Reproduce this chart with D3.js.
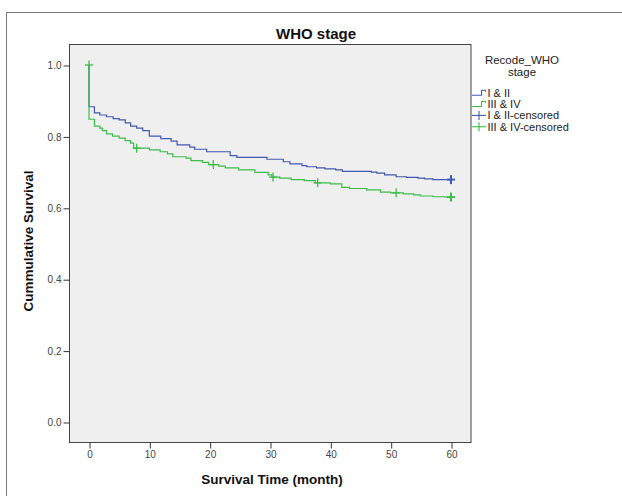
<!DOCTYPE html>
<html>
<head>
<meta charset="utf-8">
<script src="https://cdn.jsdelivr.net/npm/d3@7"></script>
<style>
  html, body { margin: 0; padding: 0; background: #fff; }
  svg { display: block; font-family: "Liberation Sans", Arial, sans-serif; }
</style>
</head>
<body>
<svg id="chart" width="622" height="496"></svg>
<script>
// Kaplan-Meier survival by recoded WHO stage
const groupNames = ["I & II", "III & IV"];
const groupColors = ["#4259b2", "#3dbd4a"];

// Group I & II: step times (month) and cumulative survival
const timesEarly = [0, 0, 0.9, 1.8, 2.9, 4.0, 5.0, 6.0, 6.9, 7.9, 8.9, 10.0, 11.9, 13.6, 14.6, 16.7, 17.5, 19.5, 23.4, 24.5, 29.5, 32.2, 33.3, 35.3, 36.1, 37.7, 39.1, 40.9, 42.0, 46.8, 47.7, 49.0, 50.9, 52.6, 54.5, 55.6, 57.0, 60];
const survEarly  = [1.0, 0.883, 0.866, 0.860, 0.855, 0.850, 0.846, 0.838, 0.829, 0.823, 0.816, 0.801, 0.794, 0.787, 0.776, 0.770, 0.764, 0.757, 0.746, 0.741, 0.736, 0.729, 0.723, 0.718, 0.715, 0.712, 0.709, 0.706, 0.702, 0.700, 0.697, 0.692, 0.687, 0.685, 0.683, 0.681, 0.679, 0.679];

// Group III & IV: step times (month) and cumulative survival
const timesLate = [0, 0, 0.9, 1.8, 2.2, 2.9, 3.9, 5.0, 6.0, 6.9, 7.4, 10.0, 11.8, 13.0, 13.9, 16.1, 16.9, 18.8, 19.8, 21.5, 22.6, 24.8, 27.5, 29.7, 30.3, 31.6, 33.5, 35.7, 37.5, 40.0, 41.9, 43.2, 46.0, 48.3, 50.0, 52.1, 53.8, 54.9, 57.0, 59.0, 60];
const survLate  = [1.0, 0.848, 0.829, 0.823, 0.816, 0.807, 0.801, 0.795, 0.788, 0.781, 0.767, 0.762, 0.757, 0.751, 0.743, 0.739, 0.732, 0.727, 0.721, 0.717, 0.712, 0.706, 0.699, 0.692, 0.686, 0.683, 0.679, 0.676, 0.670, 0.667, 0.657, 0.654, 0.650, 0.644, 0.642, 0.639, 0.636, 0.633, 0.631, 0.630, 0.630];

// Censored observations (month, survival)
const censorTimesEarly = [60];
const censorSurvEarly  = [0.679];
const censorTimesLate  = [0, 7.9, 20.6, 30.5, 37.9, 50.9, 60];
const censorSurvLate   = [1.0, 0.767, 0.721, 0.686, 0.670, 0.642, 0.630];

const xTicks = [0, 10, 20, 30, 40, 50, 60];
const yTicks = [0.0, 0.2, 0.4, 0.6, 0.8, 1.0];

const svg = d3.select("#chart");

// Outer frame of the output panel
svg.append("rect")
  .attr("x", 6.5).attr("y", 12.5)
  .attr("width", 700).attr("height", 600)
  .attr("fill", "none").attr("stroke", "#7a7a7a");

const plot = { left: 69, top: 44, right: 470.5, bottom: 442 };

const x = d3.scaleLinear().domain([-3.315, 63.23]).range([plot.left, plot.right]);
const y = d3.scaleLinear().domain([-0.056, 1.0588]).range([plot.bottom, plot.top]);

// Plot background
svg.append("rect")
  .attr("x", plot.left + 0.5).attr("y", plot.top + 0.5)
  .attr("width", plot.right - plot.left).attr("height", plot.bottom - plot.top)
  .attr("fill", "#efefef").attr("stroke", "#454545");

// Axes
const xAxis = svg.append("g")
  .attr("transform", `translate(0.5,${plot.bottom + 0.5})`)
  .call(d3.axisBottom(x).tickValues(xTicks).tickSizeInner(6).tickSizeOuter(0).tickPadding(2).tickFormat(d3.format("d")));
const yAxis = svg.append("g")
  .attr("transform", `translate(${plot.left + 0.5},0.5)`)
  .call(d3.axisLeft(y).tickValues(yTicks).tickSizeInner(6).tickSizeOuter(0).tickPadding(2).tickFormat(d3.format(".1f")));
[xAxis, yAxis].forEach(g => {
  g.select(".domain").remove();
  g.selectAll(".tick line").attr("stroke", "#333");
  g.selectAll(".tick text").attr("fill", "#444").style("font-size", "10px")
    .style("font-family", "'Liberation Sans', Arial, sans-serif");
});

// Survival step curves
const curves = [
  { times: timesEarly, surv: survEarly, color: groupColors[0] },
  { times: timesLate,  surv: survLate,  color: groupColors[1] }
];
const line = d3.line().curve(d3.curveStepAfter).x(d => x(d[0])).y(d => y(d[1]));
curves.forEach(c => {
  const pts = c.times.map((t, i) => [t, c.surv[i]]);
  svg.append("path")
    .attr("d", line(pts))
    .attr("fill", "none")
    .attr("stroke", c.color)
    .attr("stroke-width", 1.2)
    .attr("stroke-linejoin", "miter");
});

// Censor markers (plus signs)
const censors = [
  { times: censorTimesEarly, surv: censorSurvEarly, color: groupColors[0] },
  { times: censorTimesLate,  surv: censorSurvLate,  color: groupColors[1] }
];
censors.forEach(c => {
  c.times.forEach((t, i) => {
    const cx = x(t), cy = y(c.surv[i]);
    const g = svg.append("g").attr("stroke", c.color).attr("stroke-width", t === 60 ? 2 : 1.3);
    g.append("line").attr("x1", cx - 4).attr("x2", cx + 4).attr("y1", cy).attr("y2", cy);
    g.append("line").attr("x1", cx).attr("x2", cx).attr("y1", cy - 4.5).attr("y2", cy + 4.5);
  });
});

// Titles
svg.append("text")
  .attr("x", 316).attr("y", 39)
  .attr("text-anchor", "middle")
  .style("font-size", "15px").style("font-weight", "bold").attr("fill", "#111")
  .text("WHO stage");

svg.append("text")
  .attr("x", 272).attr("y", 484)
  .attr("text-anchor", "middle")
  .style("font-size", "13.5px").style("font-weight", "bold").attr("fill", "#111")
  .text("Survival Time (month)");

svg.append("text")
  .attr("transform", "translate(33,241) rotate(-90)")
  .attr("text-anchor", "middle")
  .style("font-size", "13.5px").style("font-weight", "bold").attr("fill", "#111")
  .text("Cummulative Survival");

// Legend
const legend = svg.append("g");
legend.append("text").attr("x", 522).attr("y", 63.5).attr("text-anchor", "middle")
  .style("font-size", "11.5px").attr("fill", "#222").text("Recode_WHO");
legend.append("text").attr("x", 522).attr("y", 76).attr("text-anchor", "middle")
  .style("font-size", "11.5px").attr("fill", "#222").text("stage");

const legendItems = [
  { label: groupNames[0], color: groupColors[0], kind: "step" },
  { label: groupNames[1], color: groupColors[1], kind: "step" },
  { label: groupNames[0] + "-censored", color: groupColors[0], kind: "cross" },
  { label: groupNames[1] + "-censored", color: groupColors[1], kind: "cross" }
];
legendItems.forEach((d, i) => {
  const cy = 92.7 + i * 11.35;
  const g = legend.append("g");
  if (d.kind === "step") {
    g.append("path")
      .attr("d", `M472,${cy + 2.5}H481.5V${cy - 2.5}H485.5V${cy - 1}`)
      .attr("fill", "none").attr("stroke", d.color).attr("stroke-width", 1.1);
  } else {
    g.append("line").attr("x1", 472).attr("x2", 486).attr("y1", cy).attr("y2", cy)
      .attr("stroke", d.color).attr("stroke-width", 1.1);
    g.append("line").attr("x1", 479).attr("x2", 479).attr("y1", cy - 4.5).attr("y2", cy + 4.5)
      .attr("stroke", d.color).attr("stroke-width", 1.1);
  }
  g.append("text").attr("x", 487.5).attr("y", cy + 3.8)
    .style("font-size", "11px").attr("fill", "#222").text(d.label);
});
</script>
</body>
</html>
